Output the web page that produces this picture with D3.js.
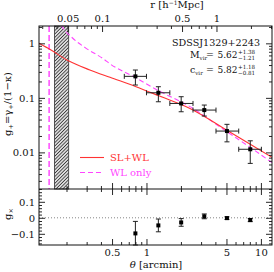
<!DOCTYPE html>
<html>
<head>
<meta charset="utf-8">
<script src="https://cdn.jsdelivr.net/npm/d3@7"></script>
<style>
  body { margin: 0; background: #fff; }
  svg text { font-family: "DejaVu Serif", serif; fill: #111; }
  .axis path { display: none; }
  .axis line { stroke: #111; stroke-width: 0.9; }
  .axis text { font-size: 10px; font-family: "DejaVu Serif", serif; fill: #111; }
</style>
</head>
<body>
<div id="chart"></div>
<script>
// measured tangential shear (theta in arcmin)
const theta    = [0.80, 1.27, 2.01, 3.20, 5.05, 8.07];
const binLo    = [0.64, 1.00, 1.60, 2.55, 4.05, 6.40];
const binHi    = [1.00, 1.60, 2.55, 4.05, 6.40, 10.1];
const gPlus    = [0.248, 0.124, 0.079, 0.0597, 0.0246, 0.0114];
const gPlusLo  = [0.172, 0.0848, 0.0556, 0.0464, 0.0156, 0.00628];
const gPlusHi  = [0.324, 0.160, 0.105, 0.0738, 0.0327, 0.0163];
const gCross   = [-0.0975, -0.0475, -0.029, 0.009, -0.002, -0.014];
const gCrossErr = [0.075, 0.040, 0.024, 0.015, 0.008, 0.010];

// model curves
const slwlTheta = [0.115, 0.144, 0.21, 0.32, 0.48, 0.80, 1.30, 2.40, 5.00, 8.00, 12.5];
const slwlG     = [1.00, 0.77, 0.473, 0.325, 0.238, 0.162, 0.108, 0.064, 0.0258, 0.0142, 0.0081];
const wlTheta   = [0.180, 0.183, 0.227, 0.297, 0.414, 0.49, 0.80, 1.27, 2.40, 5.00, 8.00, 12.5];
const wlG       = [2.15, 2.03, 1.24, 0.81, 0.53, 0.408, 0.236, 0.1356, 0.069, 0.0242, 0.0125, 0.0065];

const wlInner = 0.141;            // inner radius of WL fit (arcmin)
const slRegion = [0.157, 0.209];  // hatched strong-lensing region
const rPerArcmin = 0.2445;        // h^-1 Mpc per arcmin

const rMajor = [0.05, 0.1, 0.5, 1];
const thetaMajor = [0.5, 1, 5, 10];
const gMajor = [0.01, 0.1, 1];
const gxMajor = [-0.1, 0, 0.1];

// layout
const W = 274, H = 272;
const pLeft = 39, pRight = 272, pTop = 26, pMid = 189, pBottom = 245;

const svg = d3.select("#chart").append("svg")
    .attr("width", W).attr("height", H);

const x = d3.scaleLog().domain([0.115, 12.5]).range([pLeft, pRight]);
const r = d3.scaleLog().domain([0.115 * rPerArcmin, 12.5 * rPerArcmin]).range([pLeft, pRight]);
const y = d3.scaleLog().domain([0.00213, 2.08]).range([pMid, pTop]);
const y2 = d3.scaleLinear().domain([-0.17, 0.18]).range([pBottom, pMid]);

const fmt = d => String(d).replace("-", "\u2212");

const defs = svg.append("defs");
defs.append("clipPath").attr("id", "clipTop")
    .append("rect").attr("x", pLeft).attr("y", pTop)
    .attr("width", pRight - pLeft).attr("height", pMid - pTop);

const hatch = defs.append("pattern")
    .attr("id", "hatch").attr("patternUnits", "userSpaceOnUse")
    .attr("width", 2.4).attr("height", 2.4)
    .attr("patternTransform", "rotate(45)");
hatch.append("rect").attr("width", 2.4).attr("height", 2.4).attr("fill", "#ddd");
hatch.append("line").attr("x1", 0).attr("y1", 0).attr("x2", 0).attr("y2", 2.4)
    .attr("stroke", "#111").attr("stroke-width", 1.3);

// hatched region
svg.append("rect")
    .attr("x", x(slRegion[0])).attr("y", pTop)
    .attr("width", x(slRegion[1]) - x(slRegion[0])).attr("height", pMid - pTop)
    .attr("fill", "url(#hatch)").attr("stroke", "#333").attr("stroke-width", 0.8);

// inner radius line
svg.append("line")
    .attr("x1", x(wlInner)).attr("x2", x(wlInner))
    .attr("y1", pTop).attr("y2", pMid)
    .attr("stroke", "#ff55ff").attr("stroke-width", 1.6)
    .attr("stroke-dasharray", "6,3");

// zero line in lower panel
svg.append("line")
    .attr("x1", pLeft).attr("x2", pRight)
    .attr("y1", y2(0)).attr("y2", y2(0))
    .attr("stroke", "#777").attr("stroke-width", 0.9)
    .attr("stroke-dasharray", "1,2");

// curves
const line = d3.line().curve(d3.curveMonotoneX)
    .x(d => x(d[0])).y(d => y(d[1]));
const curves = svg.append("g").attr("clip-path", "url(#clipTop)");
curves.append("path")
    .datum(d3.zip(wlTheta, wlG))
    .attr("d", line).attr("fill", "none")
    .attr("stroke", "#ff44ff").attr("stroke-width", 1.1)
    .attr("stroke-dasharray", "5,3");
curves.append("path")
    .datum(d3.zip(slwlTheta, slwlG))
    .attr("d", line).attr("fill", "none")
    .attr("stroke", "#ff3333").attr("stroke-width", 1.1);

// error bars
const pts = theta.map((t, i) => ({t, lo: binLo[i], hi: binHi[i], g: gPlus[i], gl: gPlusLo[i], gh: gPlusHi[i], gx: gCross[i], ge: gCrossErr[i]}));
const cap = 2.5;
const eb = svg.append("g").attr("stroke", "#222").attr("stroke-width", 1);
pts.forEach(function(d) {
    const cx = x(d.t), cy = y(d.g);
    eb.append("line").attr("x1", x(d.lo)).attr("x2", x(d.hi)).attr("y1", cy).attr("y2", cy);
    eb.append("line").attr("x1", x(d.lo)).attr("x2", x(d.lo)).attr("y1", cy - cap).attr("y2", cy + cap);
    eb.append("line").attr("x1", x(d.hi)).attr("x2", x(d.hi)).attr("y1", cy - cap).attr("y2", cy + cap);
    eb.append("line").attr("x1", cx).attr("x2", cx).attr("y1", y(d.gl)).attr("y2", y(d.gh));
    eb.append("line").attr("x1", cx - cap).attr("x2", cx + cap).attr("y1", y(d.gl)).attr("y2", y(d.gl));
    eb.append("line").attr("x1", cx - cap).attr("x2", cx + cap).attr("y1", y(d.gh)).attr("y2", y(d.gh));
    // lower panel
    const b0 = Math.min(y2(d.gx - d.ge), pBottom), b1 = y2(d.gx + d.ge);
    eb.append("line").attr("x1", cx).attr("x2", cx).attr("y1", b0).attr("y2", b1);
    eb.append("line").attr("x1", cx - cap).attr("x2", cx + cap).attr("y1", b0).attr("y2", b0);
    eb.append("line").attr("x1", cx - cap).attr("x2", cx + cap).attr("y1", b1).attr("y2", b1);
});
svg.selectAll("rect.pt").data(pts).join("rect")
    .attr("class", "pt")
    .attr("x", d => x(d.t) - 2).attr("y", d => y(d.g) - 2)
    .attr("width", 4).attr("height", 4).attr("fill", "#000");
svg.selectAll("rect.pt2").data(pts).join("rect")
    .attr("class", "pt2")
    .attr("x", d => x(d.t) - 2).attr("y", d => y2(d.gx) - 2)
    .attr("width", 4).attr("height", 4).attr("fill", "#000");

// axes: major ticks 6px, minor 3px, all pointing inward
function addAxis(axisFn, scale, tr, major, minor, labels) {
    const gMin = svg.append("g").attr("class", "axis").attr("transform", tr);
    gMin.call(axisFn(scale).tickValues(minor).tickSize(-3).tickFormat(""));
    const gMaj = svg.append("g").attr("class", "axis").attr("transform", tr);
    gMaj.call(axisFn(scale).tickValues(major).tickSize(-6).tickPadding(4)
        .tickFormat(labels ? fmt : ""));
    return gMaj;
}
const near = (arr, v) => arr.some(m => Math.abs(m / v - 1) < 1e-6);
const xMinor = x.ticks().filter(v => !near(thetaMajor, v));
const rMinor = r.ticks().filter(v => !near(rMajor, v));
const yMinor = y.ticks().filter(v => !near(gMajor, v));
const y2Minor = d3.range(-16, 19, 2).map(v => v / 100).filter(v => !gxMajor.some(m => Math.abs(m - v) < 1e-9));

// top panel
addAxis(d3.axisTop, r, `translate(0,${pTop})`, rMajor, rMinor, true);
addAxis(d3.axisBottom, x, `translate(0,${pMid})`, thetaMajor, xMinor, false);
addAxis(d3.axisLeft, y, `translate(${pLeft},0)`, gMajor, yMinor, true);
addAxis(d3.axisRight, y, `translate(${pRight},0)`, gMajor, yMinor, false);
// bottom panel
addAxis(d3.axisTop, x, `translate(0,${pMid})`, thetaMajor, xMinor, false);
addAxis(d3.axisBottom, x, `translate(0,${pBottom})`, thetaMajor, xMinor, true);
addAxis(d3.axisLeft, y2, `translate(${pLeft},0)`, gxMajor, y2Minor, true);
addAxis(d3.axisRight, y2, `translate(${pRight},0)`, gxMajor, y2Minor, false);

// frames
svg.append("rect").attr("x", pLeft).attr("y", pTop).attr("width", pRight - pLeft).attr("height", pBottom - pTop)
    .attr("fill", "none").attr("stroke", "#111").attr("stroke-width", 1);
svg.append("line").attr("x1", pLeft).attr("x2", pRight).attr("y1", pMid).attr("y2", pMid)
    .attr("stroke", "#111").attr("stroke-width", 1);

// axis titles
const xt = svg.append("text").attr("x", 156).attr("y", 268).attr("text-anchor", "middle")
    .style("font-size", "10px");
xt.append("tspan").style("font-style", "italic").text("\u03b8");
xt.append("tspan").text(" [arcmin]");

const rt = svg.append("text").attr("x", 177).attr("y", 8).attr("text-anchor", "middle")
    .style("font-size", "10px");
rt.append("tspan").text("r [h");
rt.append("tspan").attr("dy", -3).style("font-size", "6px").text("\u22121");
rt.append("tspan").attr("dy", 3).text("Mpc]");

const yt = svg.append("text").attr("transform", "translate(11,104) rotate(-90)")
    .attr("text-anchor", "middle").style("font-size", "10px");
yt.append("tspan").text("g");
yt.append("tspan").attr("dy", 2).style("font-size", "6.5px").text("+");
yt.append("tspan").attr("dy", -2).text("=\u03b3");
yt.append("tspan").attr("dy", 2).style("font-size", "6.5px").text("+");
yt.append("tspan").attr("dy", -2).text("/(1\u2212\u03ba)");

const y2t = svg.append("text").attr("transform", "translate(11,214) rotate(-90)")
    .attr("text-anchor", "middle").style("font-size", "10px");
y2t.append("tspan").text("g");
y2t.append("tspan").attr("dy", 2).style("font-size", "6.5px").text("\u00d7");

// annotation
svg.append("text").attr("x", 260).attr("y", 46).attr("text-anchor", "end")
    .style("font-size", "9.6px").text("SDSSJ1329+2243");

function paramRow(yb, name, val, up, dn) {
    const t = svg.append("text").attr("x", 190).attr("y", yb).style("font-size", "9.4px");
    t.append("tspan").text(name);
    t.append("tspan").attr("dy", 2).style("font-size", "5.5px").text("vir");
    svg.append("text").attr("x", 210).attr("y", yb).attr("text-anchor", "middle")
        .style("font-size", "9.4px").text("=");
    svg.append("text").attr("x", 237.5).attr("y", yb).attr("text-anchor", "end")
        .style("font-size", "9px").text(val);
    svg.append("text").attr("x", 238).attr("y", yb - 4.2).style("font-size", "5.6px").text(up);
    svg.append("text").attr("x", 238).attr("y", yb + 2.6).style("font-size", "5.6px").text(dn);
}
paramRow(57.8, "M", "5.62", "+1.38", "\u22121.21");
paramRow(72.8, "c", "5.82", "+1.18", "\u22120.81");

// legend
const leg = [["SL+WL", "#ff3333", null, 157.5], ["WL only", "#ff44ff", "5,3", 172.5]];
leg.forEach(function(d) {
    svg.append("line").attr("x1", 80).attr("x2", 104).attr("y1", d[3]).attr("y2", d[3])
        .attr("stroke", d[1]).attr("stroke-width", 1.1).attr("stroke-dasharray", d[2]);
    svg.append("text").attr("x", 110).attr("y", d[3] + 3.5).style("font-size", "10px")
        .style("fill", d[1]).text(d[0]);
});
</script>
</body>
</html>
